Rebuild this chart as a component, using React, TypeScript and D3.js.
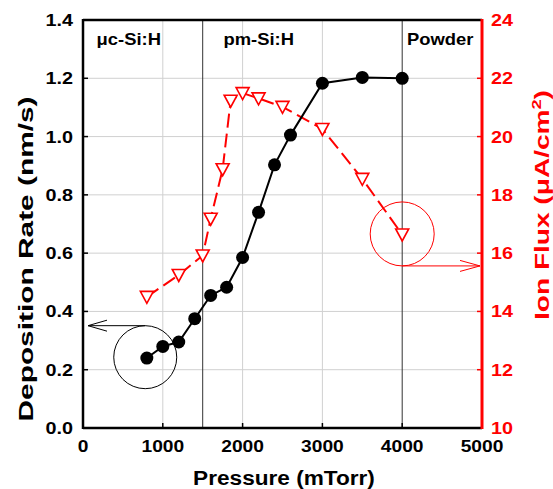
import React from "react";
import * as d3 from "d3";

const ratePressure = [800, 1000, 1200, 1400, 1600, 1800, 2000, 2200, 2400, 2600, 3000, 3500, 4000];
const depositionRate = [0.24, 0.28, 0.295, 0.375, 0.455, 0.483, 0.585, 0.74, 0.903, 1.005, 1.183, 1.203, 1.2];
const fluxPressure = [800, 1200, 1500, 1600, 1750, 1850, 2000, 2200, 2500, 3000, 3500, 4000];
const ionFlux = [14.5, 15.25, 15.92, 17.18, 18.88, 21.23, 21.49, 21.31, 21.02, 20.26, 18.55, 16.64];
const xTicks = [0, 1000, 2000, 3000, 4000, 5000];
const leftTicks = [0, 0.2, 0.4, 0.6, 0.8, 1.0, 1.2, 1.4];
const rightTicks = [10, 12, 14, 16, 18, 20, 22, 24];
const gridX = [1000, 2000, 3000];
const phaseLines = [1500, 4000];
const phaseLabels = ["μc-Si:H", "pm-Si:H", "Powder"];
const phaseLabelX = [170, 1760, 4060];

const W = 553, H = 489;
const M = { left: 83, right: 482, top: 20, bottom: 428 };
const FONT = "'Liberation Sans', Arial, Helvetica, sans-serif";
const RED = "#ff0000";
const SX = 1.2;

function T(props: { x: number; y: number; anchor?: string; size: number; fill?: string; sx?: number; children: any }) {
  const { x, y, anchor = "start", size, fill = "#000", sx = SX, children } = props;
  return (
    <text transform={`translate(${x},${y}) scale(${sx},1)`} textAnchor={anchor} fontSize={size} fontWeight="bold" fill={fill}>
      {children}
    </text>
  );
}

export default function App() {
  const x = d3.scaleLinear().domain([0, 5000]).range([M.left, M.right]);
  const yL = d3.scaleLinear().domain([0, 1.4]).range([M.bottom, M.top]);
  const yR = d3.scaleLinear().domain([10, 24]).range([M.bottom, M.top]);

  const rateLine = d3.line<number>().x((_, i) => x(ratePressure[i])).y((d) => yL(d))(depositionRate) || "";
  const fluxLine = d3.line<number>().x((_, i) => x(fluxPressure[i])).y((d) => yR(d))(ionFlux) || "";

  const tri = (cx: number, cy: number) => {
    const s = 6.5;
    return `M${cx - s},${cy - 5.5}L${cx + s},${cy - 5.5}L${cx},${cy + 6.5}Z`;
  };

  const bc = { cx: x(780), cy: yL(0.243), r: 31.5 };
  const rc = { cx: x(4000), cy: yR(16.66), r: 32 };
  const bArrowY = bc.cy - bc.r;
  const rArrowY = rc.cy + rc.r;

  return (
    <svg width={W} height={H} style={{ position: "absolute", left: 0, top: 0, background: "#fff" }} fontFamily={FONT}>
      <rect x={0} y={0} width={W} height={H} fill="#fff" />
      {leftTicks.slice(1, -1).map((t) => (
        <line key={"gy" + t} x1={M.left} x2={M.right} y1={yL(t)} y2={yL(t)} stroke="#d0d0d0" strokeWidth={1} />
      ))}
      {gridX.map((t) => (
        <line key={"gx" + t} x1={x(t)} x2={x(t)} y1={M.top} y2={M.bottom} stroke="#d0d0d0" strokeWidth={1} />
      ))}
      {phaseLines.map((t) => (
        <line key={"ph" + t} x1={x(t)} x2={x(t)} y1={M.top} y2={M.bottom} stroke="#333" strokeWidth={1} />
      ))}
      {phaseLabels.map((l, i) => (
        <T key={l} x={x(phaseLabelX[i])} y={45} size={16} sx={1.15}>{l}</T>
      ))}
      {xTicks.slice(1, -1).map((t) => (
        <line key={"xt" + t} x1={x(t)} x2={x(t)} y1={M.bottom} y2={M.bottom - 5} stroke="#000" strokeWidth={1.5} />
      ))}
      {leftTicks.slice(1, -1).map((t) => (
        <line key={"lt" + t} x1={M.left} x2={M.left + 5} y1={yL(t)} y2={yL(t)} stroke="#000" strokeWidth={1.5} />
      ))}
      {rightTicks.slice(1, -1).map((t) => (
        <line key={"rt" + t} x1={M.right} x2={M.right - 5} y1={yR(t)} y2={yR(t)} stroke={RED} strokeWidth={1.5} />
      ))}
      <line x1={M.left} x2={M.right} y1={M.top} y2={M.top} stroke="#000" strokeWidth={2.5} />
      <line x1={M.left} x2={M.right} y1={M.bottom} y2={M.bottom} stroke="#000" strokeWidth={2.5} />
      <line x1={M.left} x2={M.left} y1={M.top - 1} y2={M.bottom + 1} stroke="#000" strokeWidth={2.5} />
      <line x1={M.right} x2={M.right} y1={M.top - 1} y2={M.bottom + 1} stroke={RED} strokeWidth={3} />
      {xTicks.map((t) => (
        <T key={"xl" + t} x={x(t)} y={452} anchor="middle" size={16}>{t}</T>
      ))}
      {leftTicks.map((t) => (
        <T key={"ll" + t} x={73} y={yL(t) + 6} anchor="end" size={16.5}>{t.toFixed(1)}</T>
      ))}
      {rightTicks.map((t) => (
        <T key={"rl" + t} x={491} y={yR(t) + 6} size={16.5} fill={RED}>{t}</T>
      ))}
      <T x={284} y={485} anchor="middle" size={19.5} sx={1.16}>Pressure (mTorr)</T>
      <text transform={`translate(33,259) rotate(-90)`} textAnchor="middle" fontSize={21} fontWeight="bold" fill="#000"
        textLength={325} lengthAdjust="spacingAndGlyphs">Deposition Rate (nm/s)</text>
      <text transform={`translate(549,205) rotate(-90)`} textAnchor="middle" fontSize={20} fontWeight="bold" fill={RED}
        textLength={230} lengthAdjust="spacingAndGlyphs">
        Ion Flux (μA/cm<tspan dy={-8} fontSize={13}>2</tspan><tspan dy={8}>)</tspan>
      </text>
      <circle cx={bc.cx} cy={bc.cy} r={bc.r} fill="none" stroke="#000" strokeWidth={1} />
      <line x1={bc.cx} x2={M.left + 5} y1={bArrowY} y2={bArrowY} stroke="#000" strokeWidth={1} />
      <path d={`M${M.left + 24},${bArrowY - 5.5}L${M.left + 5},${bArrowY}L${M.left + 24},${bArrowY + 5.5}`} fill="none" stroke="#000" strokeWidth={1} />
      <circle cx={rc.cx} cy={rc.cy} r={rc.r} fill="none" stroke={RED} strokeWidth={1} />
      <line x1={rc.cx} x2={M.right - 2} y1={rArrowY} y2={rArrowY} stroke={RED} strokeWidth={1} />
      <path d={`M${M.right - 22},${rArrowY - 5.5}L${M.right - 2},${rArrowY}L${M.right - 22},${rArrowY + 5.5}`} fill="none" stroke={RED} strokeWidth={1} />
      <path d={fluxLine} fill="none" stroke={RED} strokeWidth={2} strokeDasharray="14,6" />
      {ionFlux.map((v, i) => (
        <path key={"tr" + i} d={tri(x(fluxPressure[i]), yR(v))} fill="#fff" stroke={RED} strokeWidth={1.6} />
      ))}
      <path d={rateLine} fill="none" stroke="#000" strokeWidth={2} />
      {depositionRate.map((v, i) => (
        <circle key={"c" + i} cx={x(ratePressure[i])} cy={yL(v)} r={6.5} fill="#000" />
      ))}
    </svg>
  );
}
